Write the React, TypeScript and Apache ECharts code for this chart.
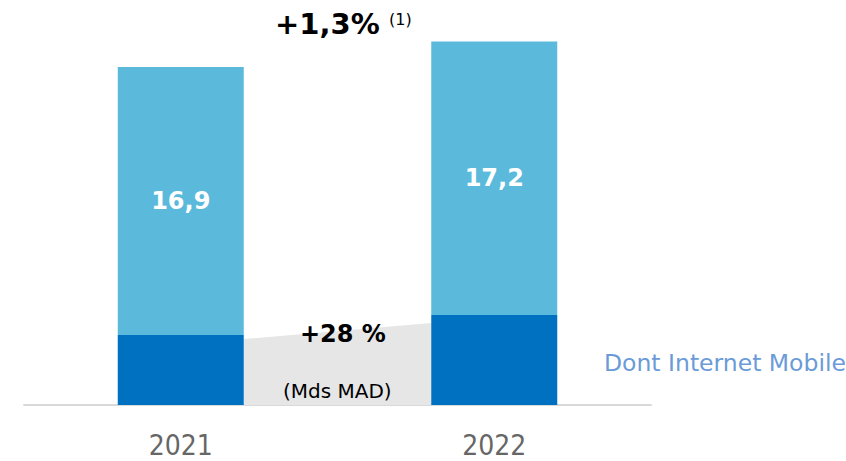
import React, { useEffect, useRef } from "react";
import * as echarts from "echarts";

const years = ["2021", "2022"];
const mobileValues = [3.5, 4.5];
const otherValues = [13.4, 13.67];
const totalLabels = ["16,9", "17,2"];
const growthTotal = "+1,3%";
const growthNote = "(1)";
const growthMobile = "+28 %";
const unitLabel = "(Mds MAD)";
const legendName = "Dont Internet Mobile";

export default function App() {
  const ref = useRef<HTMLDivElement>(null);
  useEffect(() => {
    if (!ref.current) return;
    const chart = echarts.init(ref.current, null, { renderer: "svg" });
    const font = "'DejaVu Sans', Verdana, sans-serif";
    chart.setOption({
      animation: false,
      backgroundColor: "#ffffff",
      grid: { left: 24, top: 5, width: 627, bottom: 56, containLabel: false },
      legend: {
        data: [{ name: legendName, icon: "none" }],
        left: 594,
        top: 346,
        itemWidth: 0,
        itemHeight: 0,
        itemGap: 0,
        selectedMode: false,
        textStyle: { color: "#6a9bd8", fontSize: 23.5, fontFamily: font },
      },
      xAxis: {
        type: "category",
        data: years,
        axisLine: { lineStyle: { color: "#d9d9d9", width: 2 } },
        axisTick: { show: false },
        axisLabel: {
          color: "#666666",
          fontSize: 28,
          lineHeight: 28,
          margin: 26,
          fontFamily: "'DejaVu Sans Condensed', 'Liberation Sans Narrow', sans-serif",
        },
      },
      yAxis: { type: "value", min: 0, max: 20, show: false, splitLine: { show: false } },
      series: [
        {
          type: "custom",
          name: "area",
          silent: true,
          z: 1,
          data: [0],
          renderItem: (params: any, api: any) => {
            const half = 63;
            const l = api.coord([0, mobileValues[0]]);
            const r = api.coord([1, mobileValues[1]]);
            const base = api.coord([0, 0])[1];
            return {
              type: "polygon",
              shape: {
                points: [
                  [l[0] + half, l[1] + 4],
                  [r[0] - half, r[1] + 8],
                  [r[0] - half, base],
                  [l[0] + half, base],
                ],
              },
              style: { fill: "#e6e6e6" },
            };
          },
        },
        {
          type: "bar",
          name: legendName,
          stack: "t",
          barWidth: 126,
          z: 2,
          data: mobileValues,
          itemStyle: { color: "#0070c0" },
        },
        {
          type: "bar",
          name: "Autres",
          stack: "t",
          barWidth: 126,
          z: 2,
          data: otherValues,
          itemStyle: { color: "#5bbadb" },
          label: {
            show: true,
            position: "inside",
            formatter: (p: any) => totalLabels[p.dataIndex],
            color: "#ffffff",
            fontSize: 24,
            fontWeight: "bold",
            fontFamily: font,
          },
        },
      ],
      graphic: [
        {
          type: "text",
          left: 275,
          top: 9,
          z: 100,
          style: { text: growthTotal, fontSize: 29, fontWeight: "bold", fill: "#000000", fontFamily: font },
        },
        {
          type: "text",
          left: 389,
          top: 11,
          z: 100,
          style: { text: growthNote, fontSize: 16, fill: "#000000", fontFamily: font },
        },
        {
          type: "text",
          left: 300,
          top: 322,
          z: 100,
          style: { text: growthMobile, fontSize: 24, fontWeight: "bold", fill: "#000000", fontFamily: font },
        },
        {
          type: "text",
          left: 283,
          top: 381,
          z: 100,
          style: { text: unitLabel, fontSize: 20, fill: "#000000", fontFamily: font },
        },
      ],
    });
    return () => chart.dispose();
  }, []);
  return (
    <div
      ref={ref}
      style={{ position: "fixed", left: 0, top: 0, width: 846, height: 461 }}
    />
  );
}
